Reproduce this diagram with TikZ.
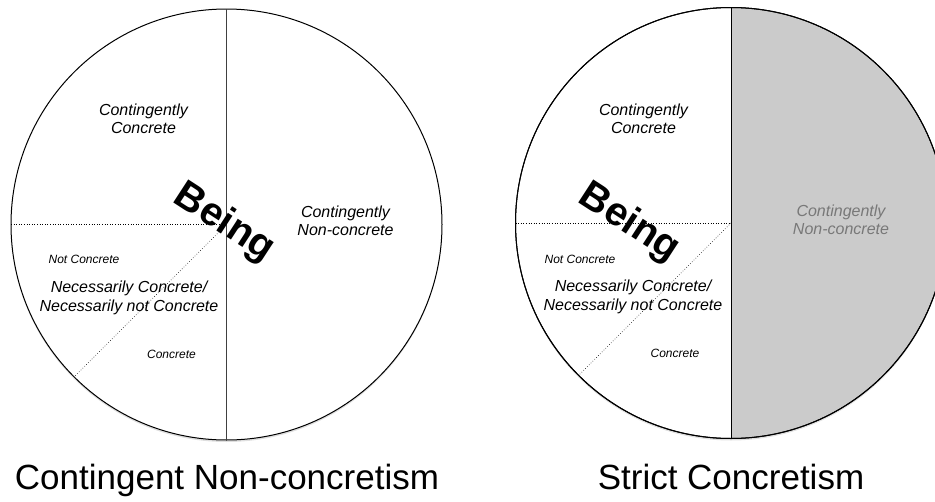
\documentclass[tikz,border=0pt]{standalone}
\usepackage{fontspec}
\setmainfont{Liberation Sans}
\usepackage{tikz}
\usetikzlibrary{positioning,calc,shadows}
\definecolor{halfgray}{RGB}{203,203,203}
\definecolor{txtgray}{RGB}{120,120,120}

\begin{document}
\begin{tikzpicture}[x=1pt,y=-1pt,
	ring/.style={draw,circle,inner sep=0pt,outer sep=0pt,line width=1pt,fill=white,minimum size=431pt,
		drop shadow={shadow xshift=0pt,shadow yshift=-2pt,opacity=0.25}},
	lbl/.style={align=center,inner sep=0pt,font=\fontsize{16}{18.5}\selectfont\itshape},
	sm/.style={inner sep=0pt,font=\fontsize{12}{14}\selectfont\itshape},
	big/.style={inner sep=0pt,anchor=base,rotate=-33,font=\fontsize{40}{44}\selectfont\bfseries},
	ttl/.style={inner sep=0pt,anchor=base,font=\fontsize{35}{40}\selectfont}]
	\useasboundingbox (0,0) rectangle (935,501);
	%left
	\coordinate (L) at (226.5,224.5);
	\node(c1)[ring] at (L){};
	\draw[line width=0.6pt,dotted] (c1.west) -- (c1.center);
	\draw[line width=0.6pt,dotted] (c1.center) -- (c1.225);
	\draw[line width=1pt,black!75] (c1.north) -- (c1.south);
	\node(t1)[lbl] at ($(L)+(-83,-105.5)$){Contingently\\Concrete};
	\node(t2)[lbl] at ($(L)+(119,-3.5)$){Contingently\\Non-concrete};
	\node(t3)[sm] at ($(L)+(-142.5,34.5)$){Not Concrete};
	\node(t4)[lbl] at ($(L)+(-97.5,73.5)$){Necessarily Concrete/\\Necessarily not Concrete};
	\node(t5)[sm] at ($(L)+(-55,129.5)$){Concrete};
	\node(b1)[big] at ($(L)+(-8,7.5)$){Being};
	\node(n1)[ttl] at (227,489){Contingent Non-concretism};
	
	%right
	\coordinate (R) at (731,223);
	\node(c2)[ring,path picture={\fill[halfgray] (path picture bounding box.north) rectangle (path picture bounding box.south east);}] at (R){};
	\draw[line width=1pt] (c2.center) circle[radius=215.5pt];
	\draw[line width=0.6pt,dotted] (c2.west) -- (c2.center);
	\draw[line width=0.6pt,dotted] (c2.center) -- (c2.225);
	\draw[line width=1pt] (c2.north) -- (c2.south);
	\node(s1)[lbl] at ($(R)+(-87.5,-104)$){Contingently\\Concrete};
	\node(s2)[lbl,text=txtgray] at ($(R)+(110,-3)$){Contingently\\Non-concrete};
	\node(s3)[sm] at ($(R)+(-151,36)$){Not Concrete};
	\node(s4)[lbl] at ($(R)+(-98,74)$){Necessarily Concrete/\\Necessarily not Concrete};
	\node(s5)[sm] at ($(R)+(-56,130)$){Concrete};
	\node(b2)[big] at ($(R)+(-107.5,9)$){Being};
	\node(n2)[ttl] at (731,489){Strict Concretism};
\end{tikzpicture}
\end{document}
